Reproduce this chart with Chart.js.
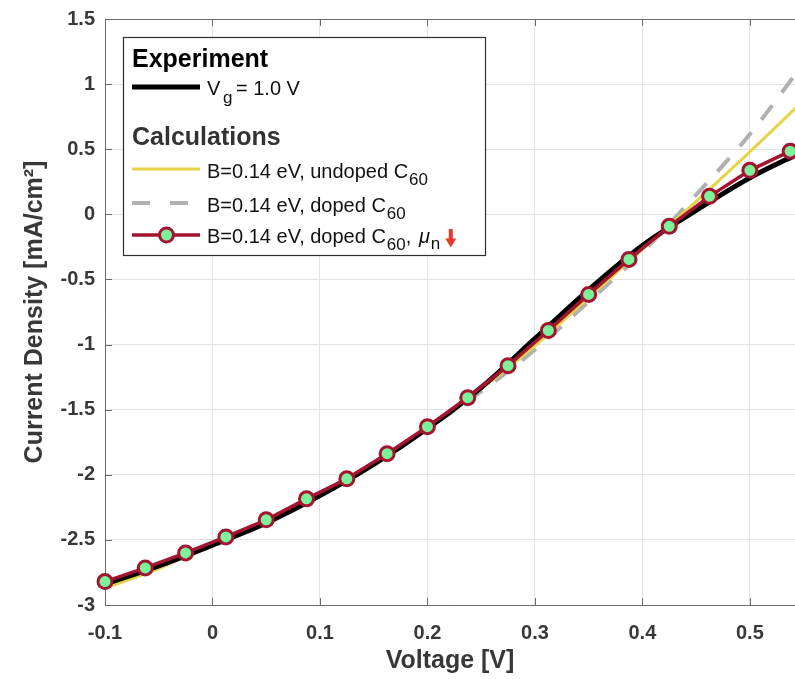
<!DOCTYPE html>
<html>
<head>
<meta charset="utf-8">
<script src="https://cdn.jsdelivr.net/npm/chart.js@4.4.1/dist/chart.umd.min.js"></script>
<style>
html,body{margin:0;padding:0;background:#ffffff;}
#wrap{width:795px;height:679px;position:relative;overflow:hidden;}
</style>
</head>
<body>
<div id="wrap"><canvas id="c" width="795" height="679"></canvas></div>
<script>
// ---------- data ----------
const xTickValues = [-0.1, 0, 0.1, 0.2, 0.3, 0.4, 0.5];
const yTickValues = [-3, -2.5, -2, -1.5, -1, -0.5, 0, 0.5, 1, 1.5];

// Calculation with markers: B=0.14 eV, doped C60, mu_n lowered
const voltageMarkers = [-0.1, -0.0625, -0.025, 0.0125, 0.05, 0.0875, 0.125, 0.1625, 0.2, 0.2375, 0.275, 0.3125, 0.35, 0.3875, 0.425, 0.4625, 0.5, 0.5375];
const currentDopedMuDown = [-2.82, -2.715, -2.60, -2.477, -2.346, -2.185, -2.031, -1.838, -1.631, -1.408, -1.162, -0.892, -0.615, -0.346, -0.092, 0.138, 0.338, 0.485];

// Experiment and the two plain calculations
const voltageCurve = [-0.1, -0.05, 0, 0.05, 0.1, 0.15, 0.2, 0.25, 0.3, 0.35, 0.4, 0.45, 0.5, 0.55];
const currentExperiment = [-2.84, -2.70, -2.54, -2.37, -2.16, -1.92, -1.645, -1.33, -0.955, -0.58, -0.24, 0.03, 0.28, 0.485];
const currentUndoped = [-2.87, -2.72, -2.53, -2.36, -2.15, -1.91, -1.64, -1.34, -1.01, -0.64, -0.27, 0.10, 0.48, 0.875];
const currentDoped = [-2.84, -2.70, -2.53, -2.36, -2.15, -1.91, -1.645, -1.36, -1.04, -0.67, -0.29, 0.15, 0.615, 1.16];

const legendHeaders = ['Experiment', 'Calculations'];
const legendExperimentLabel = ['V', 'g', '= 1.0 V'];
const legendCalcLabels = ['B=0.14 eV, undoped C', 'B=0.14 eV, doped C', 'B=0.14 eV, doped C'];
const legendSub = '60';

// ---------- styling ----------
const FONT = '"Liberation Sans", Arial, Helvetica, sans-serif';
const RED = '#a2142f';
const GREEN = '#7cf29a';
const YELLOW = '#e5d44a';
const GRAY = '#b0b0b0';
const AXIS = '#6b6b6b';
const TEXT = '#383838';

function pts(xs, ys){ return xs.map((x,i)=>({x:x, y:ys[i]})); }
function fmt(v){ return String(Math.round(v*100)/100); }

const tickPlugin = {
  id: 'insideTicks',
  beforeDatasetsDraw(chart){
    const {ctx, chartArea:a, scales:{x, y}} = chart;
    ctx.save();
    ctx.strokeStyle = AXIS;
    ctx.lineWidth = 1;
    ctx.beginPath();
    ctx.moveTo(a.left, a.top + 0.5); ctx.lineTo(a.right, a.top + 0.5);
    xTickValues.forEach(v=>{
      const px = Math.round(x.getPixelForValue(v)) + 0.5;
      ctx.moveTo(px, a.bottom); ctx.lineTo(px, a.bottom - 7);
      ctx.moveTo(px, a.top); ctx.lineTo(px, a.top + 7);
    });
    yTickValues.forEach(v=>{
      const py = Math.round(y.getPixelForValue(v)) + 0.5;
      ctx.moveTo(a.left, py); ctx.lineTo(a.left + 7, py);
    });
    ctx.stroke();
    ctx.restore();
  }
};

const legendPlugin = {
  id: 'boxLegend',
  afterDraw(chart){
    const ctx = chart.ctx;
    ctx.save();
    const L = 123, T = 37, W = 362, H = 218;
    ctx.fillStyle = '#ffffff';
    ctx.fillRect(L, T, W, H);
    ctx.strokeStyle = '#2e2e2e';
    ctx.lineWidth = 1.2;
    ctx.strokeRect(L + 0.5, T + 0.5, W, H);
    ctx.textAlign = 'left';
    ctx.textBaseline = 'alphabetic';

    const sx0 = 132, sx1 = 200, tx = 207;
    function sample(y, color, w, dash){
      ctx.save();
      ctx.strokeStyle = color; ctx.lineWidth = w;
      ctx.setLineDash(dash || []);
      ctx.beginPath(); ctx.moveTo(sx0, y); ctx.lineTo(sx1, y); ctx.stroke();
      ctx.restore();
    }
    function labelWithSub(text, base){
      ctx.fillStyle = '#111';
      ctx.font = '20px ' + FONT;
      ctx.fillText(text, tx, base);
      let x = tx + ctx.measureText(text).width;
      ctx.font = '17px ' + FONT;
      ctx.fillText(legendSub, x + 1, base + 7);
      return x + 1 + ctx.measureText(legendSub).width;
    }

    // header 1
    ctx.fillStyle = '#000';
    ctx.font = 'bold 25px ' + FONT;
    ctx.fillText(legendHeaders[0], sx0, 67);
    sample(87, '#000', 5);
    ctx.fillStyle = '#111';
    ctx.font = '20px ' + FONT;
    ctx.fillText(legendExperimentLabel[0], tx, 95);
    ctx.font = '17px ' + FONT;
    ctx.fillText(legendExperimentLabel[1], 223, 103);
    ctx.font = '20px ' + FONT;
    ctx.fillText(legendExperimentLabel[2], 236, 95);

    // header 2
    ctx.fillStyle = '#333';
    ctx.font = 'bold 25px ' + FONT;
    ctx.fillText(legendHeaders[1], sx0, 145);

    sample(169, YELLOW, 3);
    labelWithSub(legendCalcLabels[0], 178);

    sample(203, GRAY, 4, [18, 20]);
    labelWithSub(legendCalcLabels[1], 212);

    sample(235, RED, 3.5);
    ctx.beginPath();
    ctx.arc(166.5, 235, 7, 0, Math.PI*2);
    ctx.fillStyle = GREEN; ctx.fill();
    ctx.strokeStyle = RED; ctx.lineWidth = 3; ctx.stroke();
    let x = labelWithSub(legendCalcLabels[2], 243);
    ctx.fillStyle = '#111';
    ctx.font = '20px ' + FONT;
    ctx.fillText(',', x, 243);
    x += ctx.measureText(', ').width + 2;
    ctx.font = 'italic 20px ' + FONT;
    ctx.fillText('\u03bc', x, 243);
    x += ctx.measureText('\u03bc').width + 1;
    ctx.font = '17px ' + FONT;
    ctx.fillText('n', x, 249);
    x += ctx.measureText('n').width + 5;
    // red down arrow
    ctx.fillStyle = '#e8372b';
    ctx.fillRect(x + 3.5, 229, 4, 11);
    ctx.beginPath();
    ctx.moveTo(x, 238.5); ctx.lineTo(x + 11, 238.5); ctx.lineTo(x + 5.5, 247.5); ctx.closePath();
    ctx.fill();
    ctx.restore();
  }
};

const tickFont = {family: FONT, size: 20, weight: 'bold'};
const titleFont = {family: FONT, size: 25, weight: 'bold'};

new Chart(document.getElementById('c'), {
  type: 'line',
  data: {
    datasets: [
      {
        label: 'B=0.14 eV, doped C60, mu_n down',
        data: pts(voltageMarkers, currentDopedMuDown),
        borderColor: RED, borderWidth: 3.5, tension: 0,
        pointRadius: 7, pointBorderWidth: 3,
        pointBackgroundColor: GREEN, pointBorderColor: RED,
        clip: false
      },
      {
        label: 'Experiment Vg = 1.0 V',
        data: pts(voltageCurve, currentExperiment),
        borderColor: '#000', borderWidth: 5,
        cubicInterpolationMode: 'monotone', pointRadius: 0
      },
      {
        label: 'B=0.14 eV, undoped C60',
        data: pts(voltageCurve, currentUndoped),
        borderColor: YELLOW, borderWidth: 3,
        cubicInterpolationMode: 'monotone', pointRadius: 0
      },
      {
        label: 'B=0.14 eV, doped C60',
        data: pts(voltageCurve, currentDoped),
        borderColor: GRAY, borderWidth: 4, borderDash: [18, 16],
        cubicInterpolationMode: 'monotone', pointRadius: 0
      }
    ]
  },
  options: {
    responsive: false,
    animation: false,
    devicePixelRatio: 1,
    layout: {autoPadding: false, padding: {top: 19, right: 0, left: 0, bottom: 0}},
    plugins: {legend: {display: false}, tooltip: {enabled: false}},
    elements: {line: {borderJoinStyle: 'round', borderCapStyle: 'butt'}},
    scales: {
      x: {
        type: 'linear', min: -0.1, max: 0.542,
        afterBuildTicks: s => { s.ticks = xTickValues.map(v => ({value: v})); },
        afterFit: s => { s.height = 74; s.paddingLeft = 0; s.paddingRight = 0; },
        grid: {color: '#e3e3e3', lineWidth: 1, drawTicks: false},
        border: {display: true, color: AXIS, width: 1},
        ticks: {font: tickFont, color: TEXT, padding: 16, maxRotation: 0, autoSkip: false, callback: v => fmt(v)},
        title: {display: true, text: 'Voltage [V]', font: titleFont, color: TEXT, padding: {top: 0, bottom: 3}}
      },
      y: {
        type: 'linear', min: -3, max: 1.5,
        afterBuildTicks: s => { s.ticks = yTickValues.map(v => ({value: v})); },
        afterFit: s => { s.width = 105; s.paddingTop = 0; s.paddingBottom = 0; s.paddingLeft = 0; s.paddingRight = 0; },
        grid: {color: '#e3e3e3', lineWidth: 1, drawTicks: false},
        border: {display: true, color: AXIS, width: 1},
        ticks: {font: tickFont, color: TEXT, padding: 10, autoSkip: false, callback: v => fmt(v)},
        title: {display: true, text: 'Current Density [mA/cm\u00b2]', font: titleFont, color: TEXT, padding: {top: 20, bottom: 0}}
      }
    }
  },
  plugins: [tickPlugin, legendPlugin]
});
</script>
</body>
</html>
